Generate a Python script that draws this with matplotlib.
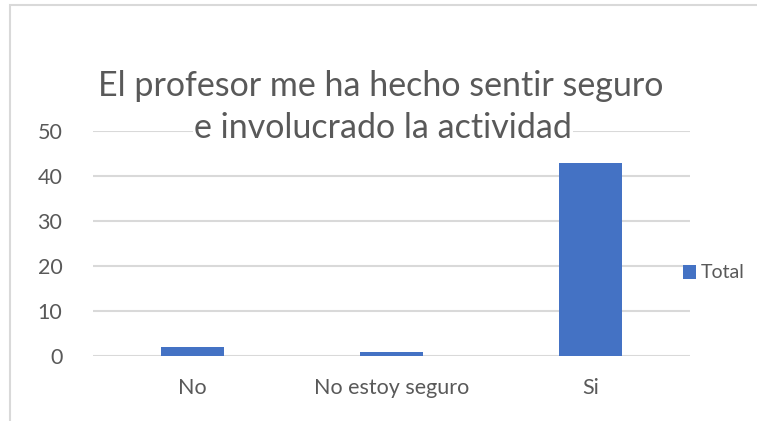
import matplotlib

matplotlib.use("Agg")
import matplotlib.pyplot as plt
from matplotlib.patches import Rectangle

categories = ["No", "No estoy seguro", "Si"]
totals = [2, 1, 43]
yticks = [0, 10, 20, 30, 40, 50]
title_lines = ["El profesor me ha hecho sentir seguro", "e involucrado la actividad"]
legend_label = "Total"

W, H = 757, 421
TEXT = "#595959"
GRID = "#d9d9d9"
BLUE = "#4472c4"

plt.rcParams["font.family"] = ["Lato", "DejaVu Sans"]

fig = plt.figure(figsize=(W / 100, H / 100), dpi=100)

# chart border (light gray, runs past the bottom/right of the crop)
fig.patches.append(Rectangle((10 / W, -0.05), 1.2, 1 - 5 / H + 0.05,
                             transform=fig.transFigure, fill=False,
                             edgecolor=GRID, linewidth=1.5))

ax = fig.add_axes([93 / W, 1 - 356 / H, 597 / W, 225 / H])
x = range(len(categories))
bars = ax.bar(x, totals, width=0.32, color=BLUE, label=legend_label, zorder=3)
ax.set_xlim(-0.5, len(categories) - 0.5)
ax.set_ylim(0, 50)
ax.set_yticks(yticks)
ax.set_xticks(list(x))
ax.set_xticklabels(categories)
ax.grid(axis="y", color=GRID, linewidth=1.5, zorder=0)
ax.set_axisbelow(True)
for side in ax.spines:
    ax.spines[side].set_visible(False)
ax.tick_params(length=0, labelsize=15.5, labelcolor=TEXT)
ax.tick_params(axis="x", pad=16)
ax.tick_params(axis="y", pad=22)

fig.text(381 / W, 1 - 86 / H, title_lines[0], ha="center", va="center",
         fontsize=24.5, color=TEXT)
fig.text(383 / W, 1 - 128 / H, title_lines[1], ha="center", va="center",
         fontsize=24.5, color=TEXT,
         bbox=dict(facecolor="white", edgecolor="none", pad=1))

fig.legend(handles=[bars], labels=[legend_label], loc="center left",
           bbox_to_anchor=(673 / W, 1 - 273 / H), frameon=False,
           fontsize=14, labelcolor=TEXT, handlelength=0.7, handleheight=0.7,
           handletextpad=0.25, borderpad=0)

fig.savefig("out.png", dpi=100)
